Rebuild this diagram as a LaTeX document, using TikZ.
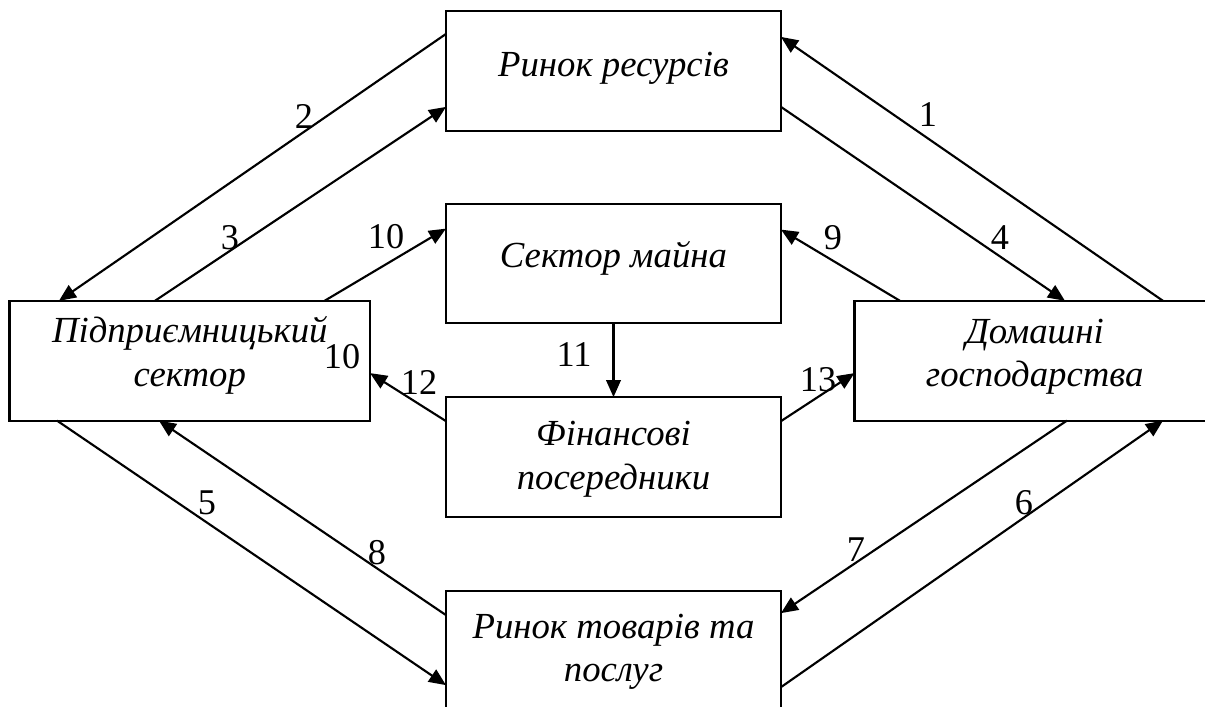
\documentclass[tikz,border=0pt]{standalone}
\usepackage{fontspec}
\setmainfont{Liberation Serif}
\usetikzlibrary{arrows.meta,calc}
\begin{document}
\begin{tikzpicture}[x=0.4pt,y=-0.4pt,
  box/.style={draw,line width=0.85pt,minimum width=#1,minimum height=47.9pt,inner sep=0pt,outer sep=0pt},
  box/.default=134pt,
  txt/.style={font=\fontsize{14.7pt}{17.5pt}\selectfont\itshape,align=center,inner sep=0pt},
  num/.style={font=\fontsize{14.5pt}{16pt}\selectfont,inner sep=0pt},
  flow/.style={line width=0.85pt,-{Triangle[length=6.8pt,width=5.8pt]}}]
\useasboundingbox (0,0) rectangle (1205,706);
\clip (0,0) rectangle (1205,706);
% boxes
\node[box] (R) at (613.5,70.8) {};
\node[box] (S) at (613.5,263.5) {};
\node[box] (F) at (613.5,457) {};
\node[box] (T) at (613.5,650.7) {};
\node[box=144.2pt] (P) at (189.8,360.7) {};
\node[box=144.2pt] (D) at (1034.7,360.7) {};
% texts
\node[txt] (tR) at ($(R.center)+(0,-3)$) {Ринок ресурсів};
\node[txt] (tS) at ($(S.center)+(0,-5)$) {Сектор майна};
\node[txt] (tF) at ($(F.center)+(0,2)$) {Фінансові\\посередники};
\node[txt] (tT) at ($(T.center)+(0,1)$) {Ринок товарів та\\послуг};
\node[txt] (tP) at ($(P.center)+(0,-5)$) {Підприємницький\\сектор};
\node[txt] (tD) at ($(D.center)+(0,-4)$) {Домашні\\господарства};
% connectors
\draw[flow] ($(D.north west)+(308.5,0)$) -- ($(R.north east)+(0,26)$);
\draw[flow] ($(R.north west)+(0,23)$) -- ($(P.north west)+(49.4,0)$);
\draw[flow] ($(P.north west)+(145.4,0)$) -- ($(R.north west)+(0,96)$);
\draw[flow] ($(R.north east)+(0,96)$) -- ($(D.north west)+(210.5,0)$);
\draw[flow] ($(P.south west)+(47.4,0)$) -- ($(T.north west)+(0,94.3)$);
\draw[flow] ($(T.north east)+(0,96.3)$) -- ($(D.south west)+(308.5,0)$);
\draw[flow] ($(D.south west)+(212.5,0)$) -- ($(T.north east)+(0,22.3)$);
\draw[flow] ($(T.north west)+(0,24.3)$) -- ($(P.south west)+(149.4,0)$);
\draw[flow] ($(D.north west)+(45.5,0)$) -- ($(S.north east)+(0,26)$);
\draw[flow] ($(P.north west)+(315,0)$) -- ($(S.north west)+(0,25)$);
\draw[flow] (S.south) -- (F.north);
\draw[flow] ($(F.north west)+(0,24)$) -- ($(P.north east)+(0,72.3)$);
\draw[flow] ($(F.north east)+(0,24)$) -- ($(D.north west)+(0,72.3)$);
% labels
\node[num] (n1) at (928,115) {1};
\node[num] (n2) at (304,117) {2};
\node[num] (n3) at (230,238) {3};
\node[num] (n4) at (1000,238) {4};
\node[num] (n5) at (207,503) {5};
\node[num] (n6) at (1024,503) {6};
\node[num] (n7) at (856,550) {7};
\node[num] (n8) at (377,553) {8};
\node[num] (n9) at (833,238) {9};
\node[num] (n10a) at (386,237) {10};
\node[num] (n10b) at (342,357) {10};
\node[num] (n11) at (574,355) {11};
\node[num] (n12) at (419,382) {12};
\node[num] (n13) at (818,380) {13};
\end{tikzpicture}
\end{document}
